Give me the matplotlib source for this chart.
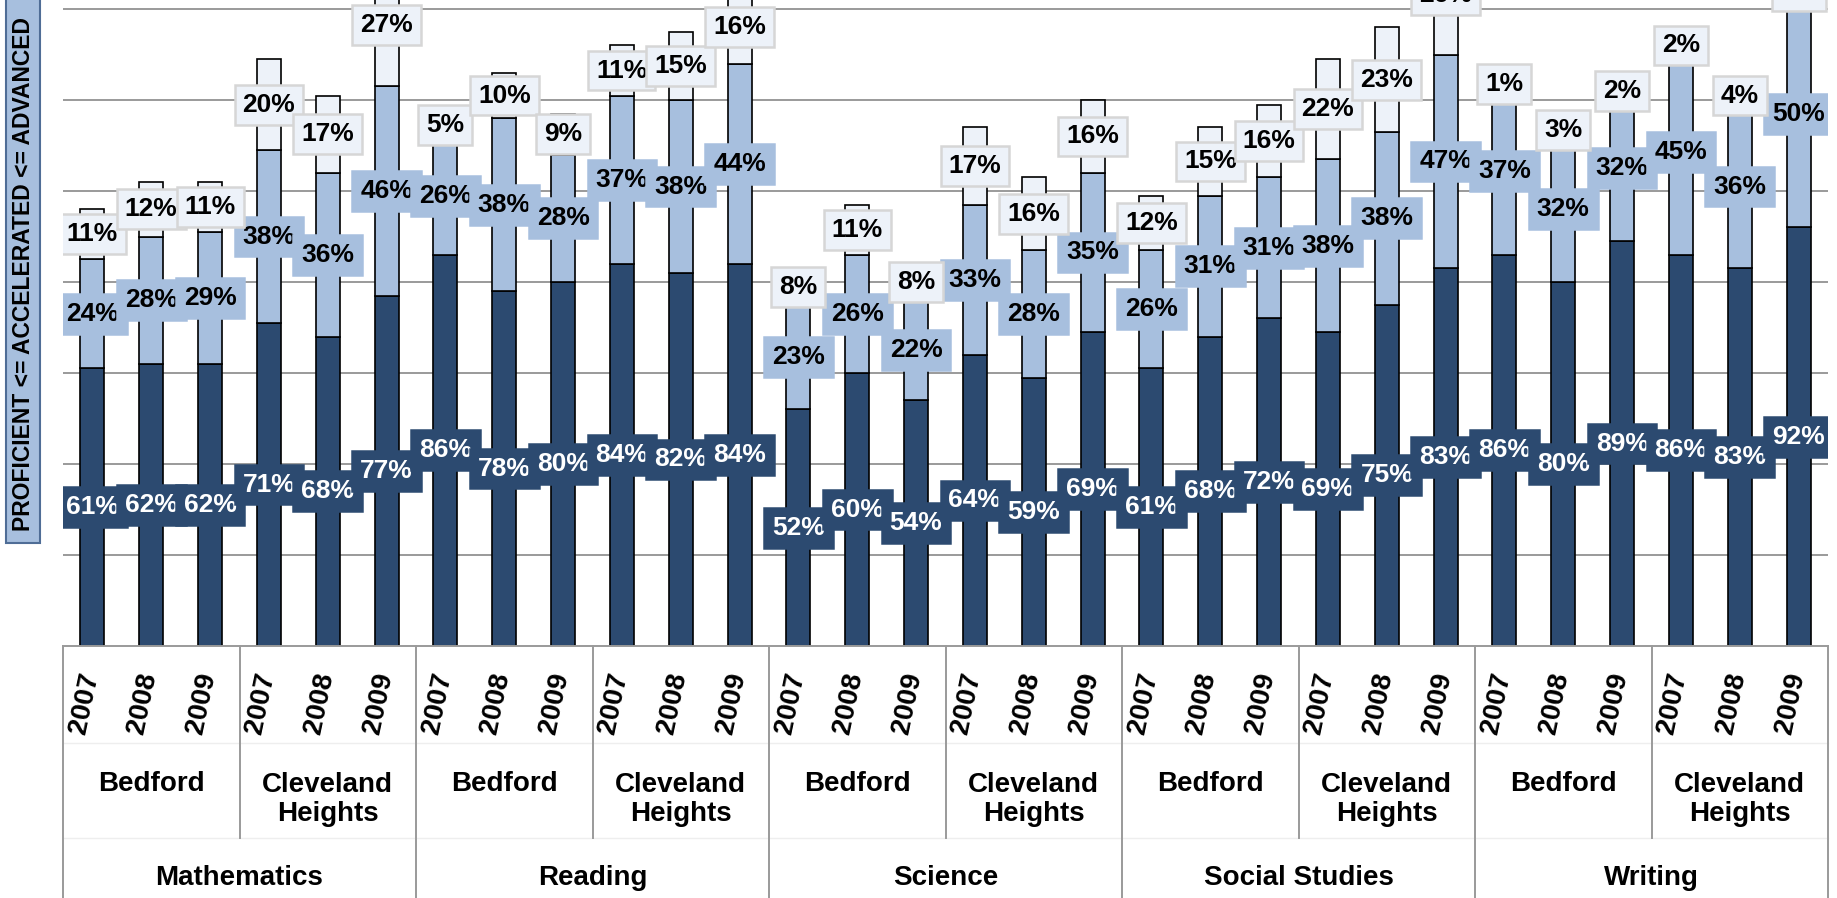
import numpy as np
import matplotlib
matplotlib.use("Agg")
import matplotlib.pyplot as plt
import matplotlib.transforms as mtransforms
from matplotlib import font_manager
from matplotlib.patches import Rectangle

subjects = ["Mathematics", "Reading", "Science", "Social Studies", "Writing"]
districts = ["Bedford", "Cleveland\nHeights"]
years = ["2007", "2008", "2009"]

# one value per bar, subject -> district -> year
proficient = [61, 62, 62, 71, 68, 77,
              86, 78, 80, 84, 82, 84,
              52, 60, 54, 64, 59, 69,
              61, 68, 72, 69, 75, 83,
              86, 80, 89, 86, 83, 92]
accelerated = [24, 28, 29, 38, 36, 46,
               26, 38, 28, 37, 38, 44,
               23, 26, 22, 33, 28, 35,
               26, 31, 31, 38, 38, 47,
               37, 32, 32, 45, 36, 50]
advanced = [11, 12, 11, 20, 17, 27,
            5, 10, 9, 11, 15, 16,
            8, 11, 8, 17, 16, 16,
            12, 15, 16, 22, 23, 26,
            1, 3, 2, 2, 4, 4]

dark = "#2C4A70"
mid = "#A7BFDE"
light = "#EDF2F9"
grid_c = "#9A9A9A"

plt.rcParams["font.family"] = ["Liberation Sans", "DejaVu Sans"]
plt.rcParams["font.weight"] = "bold"

W, H = 1837, 898
fig = plt.figure(figsize=(W / 100, H / 100), dpi=100)
ax_l, ax_r, ax_b = 63, 1828, 646
ax = fig.add_axes([ax_l / W, 1 - ax_b / H, (ax_r - ax_l) / W, ax_b / H])

n = len(proficient)
x = np.arange(n)
p = np.array(proficient)
a = np.array(accelerated)
v = np.array(advanced)

bw = 0.41
ax.bar(x, p, bw, color=dark, edgecolor="black", linewidth=1.2, zorder=2)
ax.bar(x, a, bw, bottom=p, color=mid, edgecolor="black", linewidth=1.2, zorder=2)
ax.bar(x, v, bw, bottom=p + a, color=light, edgecolor="black", linewidth=1.2, zorder=2)

ax.set_xlim(-0.5, n - 0.5)
ax.set_ylim(0, 142)
ax.set_yticks(np.arange(20, 141, 20))
ax.set_yticklabels([])
ax.tick_params(left=False, bottom=False, labelbottom=False)
ax.yaxis.grid(True, color=grid_c, linewidth=1.4)
ax.set_axisbelow(True)
for s in ["left", "right", "top"]:
    ax.spines[s].set_visible(False)
ax.spines["bottom"].set_color(grid_c)
ax.spines["bottom"].set_linewidth(1.4)

fs = 19
# data labels, series by series so later series sit on top
for vals, base, fc, tc, ec in [(p, 0 * p, dark, "white", dark),
                               (a, p, mid, "black", mid),
                               (v, p + a, light, "black", "#D6D6D6")]:
    for i in range(n):
        ax.text(x[i], base[i] + vals[i] / 2, f"{vals[i]}%", ha="center", va="center",
                fontsize=fs, fontweight="bold", color=tc, zorder=5, clip_on=True,
                bbox=dict(boxstyle="square,pad=0.3", fc=fc, ec=ec, lw=1.8))

# multi-level category table under the axis
tr = mtransforms.blended_transform_factory(ax.transData, ax.transAxes)


def yfrac(px):
    return 1 - px / ax_b


line_kw = dict(color=grid_c, linewidth=1.4, transform=tr, clip_on=False)
for yy in [743, 838]:
    ax.plot([-0.5, n - 0.5], [yfrac(yy), yfrac(yy)], color="#EEEEEE", linewidth=1.0,
            transform=tr, clip_on=False)
for k in range(len(subjects) + 1):
    xs = k * 6 - 0.5
    ax.plot([xs, xs], [0, yfrac(H + 5)], **line_kw)
for k in range(len(subjects)):
    xs = k * 6 + 2.5
    ax.plot([xs, xs], [0, yfrac(838)], **line_kw)

for i in range(n):
    ax.text(x[i] - 0.14, yfrac(703), years[i % 3], rotation=78, ha="center", va="center",
            fontsize=20, fontweight="bold", transform=tr, clip_on=False)
for k in range(len(subjects) * 2):
    name = districts[k % 2]
    ypx = 784 if "\n" not in name else 799.5
    ax.text(k * 3 + 1, yfrac(ypx), name, ha="center", va="center", fontsize=20,
            fontweight="bold", linespacing=1.12, transform=tr, clip_on=False)
for k, s in enumerate(subjects):
    ax.text(k * 6 + 2.5, yfrac(878), s, ha="center", va="center", fontsize=20,
            fontweight="bold", transform=tr, clip_on=False)

# y label box
try:
    font_manager.findfont("Liberation Sans Narrow", fallback_to_default=False)
    yfam, yfs = ["Liberation Sans Narrow", "Liberation Sans"], 19
except Exception:
    yfam, yfs = ["Liberation Sans", "DejaVu Sans"], 16.5
fig.patches.append(Rectangle((6 / W, 1 - 543 / H), 34 / W, 560 / H, transform=fig.transFigure,
                             fc=mid, ec="#4F6D96", lw=1.5))
fig.text(23.5 / W, 1 - 274 / H, "PROFICIENT <= ACCELERATED <= ADVANCED", rotation=90,
         ha="center", va="center", fontsize=yfs, fontweight="bold", family=yfam)

fig.savefig("out.png", dpi=100)
